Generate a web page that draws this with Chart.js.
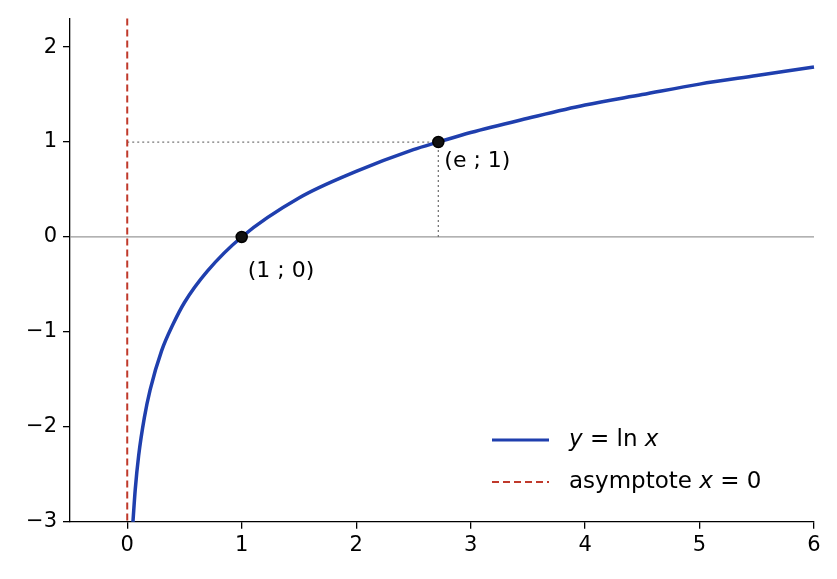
<!DOCTYPE html>
<html><head><meta charset="utf-8">
<script src="https://cdn.jsdelivr.net/npm/chart.js@4"></script>
<style>html,body{margin:0;background:#fff}#w{width:837px;height:579px}</style>
</head><body><div id="w"><canvas id="c"></canvas></div>
<script>
const xs=[0.05,0.07,0.1,0.15,0.2,0.3,0.4,0.5,0.7,1,1.5,2,2.5,2.718,3,3.5,4,4.5,5,5.5,6];
const lnVals=[-3.0,-2.66,-2.30,-1.90,-1.61,-1.20,-0.92,-0.69,-0.36,0,0.41,0.69,0.92,1,1.10,1.25,1.39,1.50,1.61,1.70,1.79];
const markX=[1,2.718];const markY=[0,1];
const markLabels=['(1 ; 0)','(e ; 1)'];
const xTicks=[0,1,2,3,4,5,6];const yTicks=[-3,-2,-1,0,1,2];
const F='"DejaVu Sans", sans-serif';
const fmt=v=>String(v).replace('-','\u2212');
const deco={id:'deco',
beforeDatasetsDraw(ch){const{ctx,chartArea:a,scales:{x,y}}=ch;ctx.save();
ctx.strokeStyle='#999';ctx.lineWidth=1.3;ctx.beginPath();ctx.moveTo(a.left,y.getPixelForValue(0));ctx.lineTo(a.right,y.getPixelForValue(0));ctx.stroke();
ctx.strokeStyle='#777';ctx.setLineDash([2,3]);ctx.beginPath();ctx.moveTo(x.getPixelForValue(0),y.getPixelForValue(1));ctx.lineTo(x.getPixelForValue(markX[1]),y.getPixelForValue(1));ctx.moveTo(x.getPixelForValue(markX[1]),y.getPixelForValue(0));ctx.lineTo(x.getPixelForValue(markX[1]),y.getPixelForValue(1));ctx.stroke();
ctx.strokeStyle='#c0392b';ctx.lineWidth=2;ctx.setLineDash([7,4]);ctx.beginPath();ctx.moveTo(x.getPixelForValue(0),a.top);ctx.lineTo(x.getPixelForValue(0),a.bottom);ctx.stroke();ctx.restore();},
afterDraw(ch){const{ctx,chartArea:a,scales:{x,y}}=ch;ctx.save();ctx.fillStyle='#000';ctx.font='22px '+F;ctx.textBaseline='middle';
markLabels.forEach((t,i)=>ctx.fillText(t,x.getPixelForValue(markX[i])+6,y.getPixelForValue(markY[i])+34-(i?15:0)));
const lx=492,ly=[440,482];
ctx.lineWidth=3;ctx.strokeStyle='#1f3fae';ctx.beginPath();ctx.moveTo(lx,ly[0]);ctx.lineTo(lx+57,ly[0]);ctx.stroke();
ctx.lineWidth=2;ctx.strokeStyle='#c0392b';ctx.setLineDash([7,4]);ctx.beginPath();ctx.moveTo(lx,ly[1]);ctx.lineTo(lx+57,ly[1]);ctx.stroke();ctx.setLineDash([]);
let tx=lx+77;
ctx.font='italic 23px '+F;ctx.fillText('y',tx,ly[0]);let w=ctx.measureText('y ').width;ctx.font='23px '+F;ctx.fillText('= ln',tx+w,ly[0]);w+=ctx.measureText('= ln ').width;ctx.font='italic 23px '+F;ctx.fillText('x',tx+w,ly[0]);
ctx.font='23px '+F;ctx.fillText('asymptote',tx,ly[1]);w=ctx.measureText('asymptote ').width;ctx.font='italic 23px '+F;ctx.fillText('x',tx+w,ly[1]);w+=ctx.measureText('x ').width;ctx.font='23px '+F;ctx.fillText('= 0',tx+w,ly[1]);
ctx.restore();}};
new Chart(document.getElementById('c'),{type:'scatter',
data:{datasets:[
{data:xs.map((v,i)=>({x:v,y:lnVals[i]})),showLine:true,borderColor:'#1f3fae',borderWidth:3.5,pointRadius:0,cubicInterpolationMode:'monotone',order:2},
{data:markX.map((v,i)=>({x:v,y:markY[i]})),pointRadius:5.5,backgroundColor:'#111',borderColor:'#000',borderWidth:1.5,order:1}]},
plugins:[deco],
options:{animation:false,responsive:true,maintainAspectRatio:false,clip:false,
layout:{padding:{top:14,right:23,bottom:17,left:0}},
plugins:{legend:{display:false},tooltip:{enabled:false}},
scales:{
x:{type:'linear',min:-0.5,max:6,afterBuildTicks:s=>{s.ticks=xTicks.map(v=>({value:v}))},grid:{display:true,drawOnChartArea:false,drawTicks:true,tickLength:7,color:'#000',lineWidth:1.3},border:{color:'#000',width:1.3},ticks:{color:'#000',font:{size:21,family:F},padding:4,maxRotation:0,callback:fmt}},
y:{type:'linear',min:-3,max:2.3,afterBuildTicks:s=>{s.ticks=yTicks.map(v=>({value:v}))},afterFit:s=>{s.width=70},grid:{display:true,drawOnChartArea:false,tickLength:7,color:'#000',lineWidth:1.3},border:{color:'#000',width:1.3},ticks:{color:'#000',font:{size:21,family:F},padding:6,callback:fmt}}}}});
</script></body></html>
